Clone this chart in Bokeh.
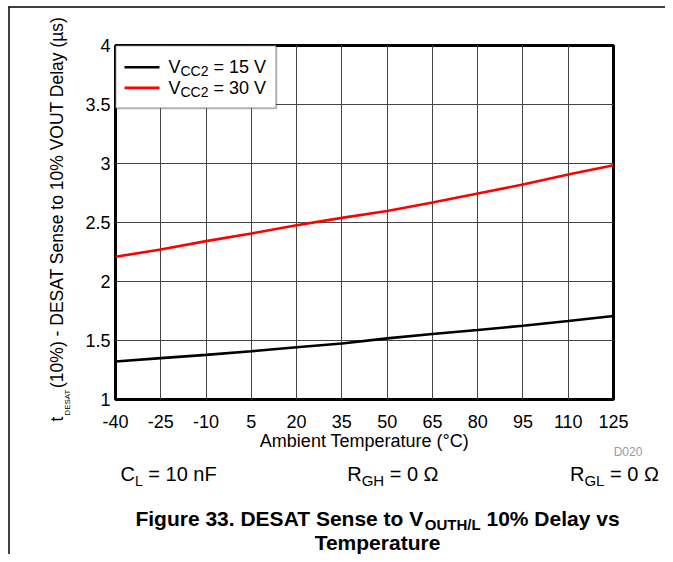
import math
from bokeh.plotting import figure
from bokeh.models import Range1d, FixedTicker, BoxAnnotation
from bokeh.core.properties import value
from bokeh.embed import file_html
from bokeh.resources import INLINE

# ---------------- data ----------------
temps = [-40, -25, -10, 5, 20, 35, 50, 65, 80, 95, 110, 125]
delay_vcc15 = [1.322, 1.351, 1.378, 1.409, 1.443, 1.475, 1.518, 1.555, 1.589, 1.625, 1.665, 1.708]
delay_vcc30 = [2.209, 2.271, 2.342, 2.407, 2.477, 2.539, 2.598, 2.669, 2.746, 2.822, 2.907, 2.986]
x_ticks = [-40, -25, -10, 5, 20, 35, 50, 65, 80, 95, 110, 125]
x_tick_labels = ["-40", "-25", "-10", "5", "20", "35", "50", "65", "80", "95", "110", "125"]
y_ticks = [1, 1.5, 2, 2.5, 3, 3.5, 4]
y_tick_labels = ["1", "1.5", "2", "2.5", "3", "3.5", "4"]
legend_values = ["15 V", "30 V"]
series_colors = ["#000000", "#ff0000"]

XMIN, XMAX = -40, 125
YMIN, YMAX = 1, 4
FONT = "Liberation Sans"

W, H = 665, 554
PX0, PX1, PY0, PY1 = 115, 613, 45, 399   # plot frame in page pixels

ARIAL = {' ': 278, 'V': 667, 'C': 722, '2': 556, '=': 584, '1': 556, '5': 556, '3': 556,
         '0': 556, 'L': 556, 'n': 556, 'F': 611, 'R': 722, 'G': 778, 'H': 722, 'Ω': 768,
         't': 278, 'D': 722, 'E': 667, 'S': 667, 'A': 667, 'T': 611}
ARIAL_B = {' ': 278, 'F': 611, 'i': 278, 'g': 611, 'u': 611, 'r': 389, 'e': 556, '3': 556,
           '.': 278, 'D': 722, 'E': 667, 'S': 667, 'A': 722, 'T': 611, 'n': 611, 's': 556,
           't': 333, 'o': 611, 'V': 667, 'O': 778, 'U': 722, 'H': 722, '/': 278, 'L': 611,
           '1': 556, '0': 556, '%': 889, 'l': 278, 'a': 556, 'y': 556, 'v': 556, 'm': 889,
           'p': 611}


def tw(s, size, bold=False):
    t = ARIAL_B if bold else ARIAL
    return sum(t.get(c, 556) for c in s) * size / 1000.0


p = figure(width=W, height=H, output_backend="svg", toolbar_location=None,
           x_range=Range1d(XMIN, XMAX), y_range=Range1d(YMIN, YMAX),
           min_border_left=PX0, min_border_right=W - PX1,
           min_border_top=PY0, min_border_bottom=H - PY1)
p.background_fill_color = "white"
p.border_fill_color = "white"
p.outline_line_color = "black"
p.outline_line_width = 3

for ax in (p.xaxis[0], p.yaxis[0]):
    ax.axis_line_color = None
    ax.major_tick_line_color = None
    ax.minor_tick_line_color = None
    ax.major_tick_out = 0
    ax.major_tick_in = 0
    ax.minor_tick_out = 0
    ax.minor_tick_in = 0
    ax.major_label_text_font = FONT
    ax.major_label_text_font_size = "18px"
    ax.major_label_text_color = "black"

p.xaxis.ticker = FixedTicker(ticks=x_ticks)
p.yaxis.ticker = FixedTicker(ticks=y_ticks)
p.xaxis.major_label_overrides = {v: s for v, s in zip(x_ticks, x_tick_labels)}
p.yaxis.major_label_overrides = {v: s for v, s in zip(y_ticks, y_tick_labels)}
p.xaxis.major_label_standoff = 15
p.yaxis.major_label_standoff = 5
p.xaxis.axis_label = "Ambient Temperature (°C)"
p.xaxis.axis_label_text_font = FONT
p.xaxis.axis_label_text_font_size = "18px"
p.xaxis.axis_label_text_font_style = "normal"
p.xaxis.axis_label_text_color = "black"
p.xaxis.axis_label_standoff = 0

p.grid.grid_line_color = "#444444"
p.grid.grid_line_width = 1
p.xgrid.ticker = FixedTicker(ticks=x_ticks)
p.ygrid.ticker = FixedTicker(ticks=y_ticks)

p.line(temps, delay_vcc15, line_color=series_colors[0], line_width=2.6)
p.line(temps, delay_vcc30, line_color=series_colors[1], line_width=2.6)


# ---------------- pixel helpers ----------------
def fx(px):
    return XMIN + (px - PX0) * (XMAX - XMIN) / (PX1 - PX0)


def fy(py):
    return YMAX - (py - PY0) * (YMAX - YMIN) / (PY1 - PY0)


MID = 0.358   # cap-centre height above the baseline, in em


def txt(text, px, pmid, size, bold=False, color="black", angle=0.0, align="left",
        rotated=False):
    """pmid: page position of the text's centre line (y, or x when rotated)"""
    if rotated:
        x, y = fx(pmid), fy(px)
    else:
        x, y = fx(px), fy(pmid)
    p.text(x=[x], y=[y], text=[text], text_font=value(FONT),
           text_font_size=value(f"{size}px"),
           text_font_style=value("bold" if bold else "normal"),
           text_color=value(color), angle=angle, text_align=value(align),
           text_baseline=value("middle"), level="overlay")


def runs(pieces, px, pbase, bold=False):
    """pieces of (text, size, baseline shift) laid side by side from px on baseline pbase"""
    x = px
    for text, size, shift in pieces:
        lead = len(text) - len(text.lstrip(" "))
        x += tw(" " * lead, size, bold)
        body = text.lstrip(" ")
        txt(body, x, pbase + shift - MID * size, size, bold=bold)
        x += tw(body, size, bold)


def hline(x0, x1, py, color="black", width=1.5):
    p.segment(x0=[fx(x0)], y0=[fy(py)], x1=[fx(x1)], y1=[fy(py)], line_color=color,
              line_width=width, level="overlay")


def vline(px, y0, y1, color="black", width=1.5):
    p.segment(x0=[fx(px)], y0=[fy(y0)], x1=[fx(px)], y1=[fy(y1)], line_color=color,
              line_width=width, level="overlay")


# ---------------- page frame lines ----------------
hline(8, W, 6.5)
vline(8.5, 6, H)

# ---------------- legend (hand drawn to keep the subscripts) ----------------
p.add_layout(BoxAnnotation(left=fx(PX0), right=fx(275.7), top=fy(PY0), bottom=fy(107.7),
                           fill_color="white", fill_alpha=1, line_color="black",
                           line_width=2))
for i, (val, col) in enumerate(zip(legend_values, series_colors)):
    ly = 66.7 + i * 20.7
    hline(124, 159, ly, color=col, width=2.6)
    runs([("V", 18, 0), ("CC2", 14, 2.5), (" = " + val, 18, 0)], 168, 73.3 + i * 20.7)

# ---------------- y title (rotated, with subscript) ----------------
ang = math.pi / 2
y0 = 421
txt("t", y0, 56, 17.5, angle=ang, rotated=True)
y1 = y0 - tw("t", 17.5) - 1
txt("DESAT", y1, 66.5, 8, angle=ang, rotated=True)
y2 = y1 - tw("DESAT", 8) - 1
txt("(10%) - DESAT Sense to 10% VOUT Delay (µs)", y2, 56, 17.5, angle=ang, rotated=True)

# ---------------- texts below the chart ----------------
txt("D020", 627.5, 451, 12, color="#9a9a9a", align="center")

runs([("C", 20, 0), ("L", 14, 5), (" = 10 nF", 20, 0)], 120, 480.4)
runs([("R", 20, 0), ("GH", 15, 5), (" = 0 Ω", 20, 0)], 346.7, 480.4)
runs([("R", 20, 0), ("GL", 15, 5), (" = 0 Ω", 20, 0)], 569.5, 480.4)

cap1 = [("Figure 33. DESAT Sense to V", 21, 0), ("OUTH/L", 15, 4), (" 10% Delay vs", 21, 0)]
cap_w = sum(tw(t, s, True) for t, s, _ in cap1)
cx = 377
runs(cap1, cx - cap_w / 2, 518 + MID * 21, bold=True)
txt("Temperature", cx, 541.5, 21, bold=True, align="center")

open("out.html", "w").write(file_html(p, INLINE))
